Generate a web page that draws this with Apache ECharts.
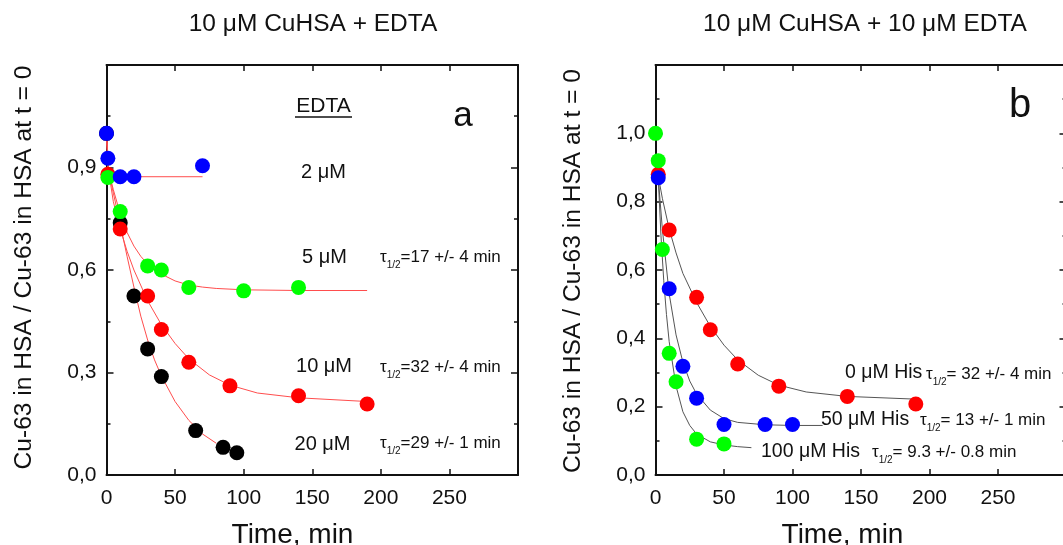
<!DOCTYPE html>
<html>
<head>
<meta charset="utf-8">
<script src="https://cdn.jsdelivr.net/npm/echarts@6/dist/echarts.min.js"></script>
<style>
html,body{margin:0;padding:0;background:#fff}
#chart{width:1063px;height:545px}
</style>
</head>
<body>
<div id="chart"></div>
<script>
// panel a: 10 uM CuHSA + EDTA  (time in min, fraction of Cu-63 left in HSA)
var edta2  = [[0,1.0],[1,0.927],[10,0.873],[20,0.873],[70,0.905]];
var edta5  = [[1,0.871],[10,0.771],[30,0.612],[40,0.600],[60,0.549],[100,0.539],[140,0.549]];
var edta10 = [[1,0.88],[10,0.72],[30,0.524],[40,0.426],[60,0.33],[90,0.261],[140,0.232],[190,0.208]];
var edta20 = [[0,1.0],[10,0.738],[20,0.524],[30,0.369],[40,0.288],[65,0.13],[85,0.081],[95,0.065]];
// fitted curves of panel a
var fitEdta2  = [[0,1.0],[1,0.9],[2,0.873],[70,0.873]];
var fitEdta5  = [[0,1.0],[1.5,0.89],[5,0.835],[10,0.765],[15,0.71],[20,0.67],[25,0.64],[30,0.617],[40,0.588],[50,0.568],[60,0.556],[70,0.55],[80,0.546],[100,0.542],[140,0.54],[190,0.54]];
var fitEdta10 = [[0,1.0],[1.5,0.89],[5,0.8],[10,0.72],[15,0.655],[20,0.6],[30,0.51],[40,0.44],[50,0.385],[60,0.34],[75,0.293],[90,0.263],[110,0.24],[140,0.226],[190,0.215]];
var fitEdta20 = [[0,1.0],[1.5,0.89],[5,0.825],[10,0.735],[15,0.64],[20,0.55],[25,0.465],[30,0.395],[35,0.337],[40,0.29],[50,0.215],[60,0.16],[70,0.12],[80,0.093]];

// panel b: 10 uM CuHSA + 10 uM EDTA with His
var his0   = [[2,0.88],[10,0.717],[30,0.52],[40,0.425],[60,0.325],[90,0.26],[140,0.23],[190,0.208]];
var his50  = [[2,0.87],[10,0.545],[20,0.318],[30,0.225],[50,0.148],[80,0.148],[100,0.148]];
var his100 = [[0,1.0],[2,0.92],[5,0.66],[10,0.356],[15,0.273],[30,0.105],[50,0.091]];
var fitHis0   = [[2,0.875],[5,0.81],[10,0.72],[15,0.65],[20,0.59],[30,0.505],[40,0.435],[50,0.38],[60,0.337],[75,0.292],[90,0.263],[110,0.243],[140,0.23],[190,0.222]];
var fitHis50  = [[2,0.87],[5,0.72],[10,0.53],[15,0.41],[20,0.33],[25,0.275],[30,0.237],[40,0.19],[50,0.165],[60,0.154],[80,0.147],[100,0.145],[122,0.145]];
var fitHis100 = [[2,0.87],[4,0.7],[6,0.57],[8,0.47],[10,0.39],[15,0.26],[20,0.185],[25,0.145],[30,0.12],[40,0.097],[50,0.088],[60,0.083],[70,0.08]];

// tick settings
var xMax = 300, xStep = 50, xLastLabel = 250;
var yMax = 1.2, yStepA = 0.3, yStepB = 0.2;

var FONT = '"Liberation Sans", Arial, Helvetica, sans-serif';
var INK = '#111';

var myChart = echarts.init(document.getElementById('chart'));

function comma(v){ return v.toFixed(1).replace('.', ','); }

function xAxisPair(gi){
  var base = {
    gridIndex: gi, type: 'value', min: 0, max: xMax, interval: xStep,
    axisLine: {onZero: false, lineStyle: {color: INK, width: 2}},
    axisTick: {inside: true, length: 6, lineStyle: {color: INK, width: 1.5}},
    splitLine: {show: false}
  };
  var bottom = echarts.util.merge({
    position: 'bottom',
    axisLabel: {color: INK, fontSize: 21, fontFamily: FONT, margin: 13,
      formatter: function(v){ return v > xLastLabel ? '' : String(v); }}
  }, base, true);
  var top = echarts.util.merge({position: 'top', axisLabel: {show: false}}, base, true);
  return [bottom, top];
}

function yAxisPair(gi, step){
  var base = {
    gridIndex: gi, type: 'value', min: 0, max: yMax, interval: step,
    axisLine: {onZero: false, lineStyle: {color: INK, width: 2}},
    axisTick: {inside: true, length: 7, lineStyle: {color: INK, width: 1.5}},
    minorTick: {show: true, splitNumber: 2, length: 4, lineStyle: {color: INK, width: 1.5}},
    splitLine: {show: false}, minorSplitLine: {show: false}
  };
  var left = echarts.util.merge({
    position: 'left',
    axisLabel: {color: INK, fontSize: 21, fontFamily: FONT, margin: 10,
      formatter: function(v){ return v > 1.05 ? '' : comma(v); }}
  }, base, true);
  var right = echarts.util.merge({position: 'right', axisLabel: {show: false}}, base, true);
  return [left, right];
}

function dots(data, color, xi, yi){
  return {type: 'scatter', data: data, xAxisIndex: xi, yAxisIndex: yi,
    symbol: 'circle', symbolSize: 15, itemStyle: {color: color, opacity: 1}, z: 5};
}
function fit(data, color, xi, yi){
  return {type: 'line', data: data, xAxisIndex: xi, yAxisIndex: yi,
    smooth: false, showSymbol: false, symbol: 'none',
    lineStyle: {color: color, width: 1}, z: 2, silent: true};
}

function txt(x, y, s, size, align){
  return {type: 'text', x: x, y: y, z: 10,
    style: {text: s, fontSize: size, fontFamily: FONT, fill: INK,
      align: align || 'center', verticalAlign: 'middle'}};
}
function tau(x, y, rest){
  return {type: 'text', x: x, y: y, z: 10,
    style: {text: '{t|τ}{s|1/2}{t|' + rest + '}', fontFamily: FONT, fill: INK,
      align: 'left', verticalAlign: 'middle',
      rich: {
        t: {fontSize: 17, lineHeight: 26, verticalAlign: 'middle', fontFamily: FONT, fill: INK},
        s: {fontSize: 10, lineHeight: 12, verticalAlign: 'bottom', fontFamily: FONT, fill: INK}
      }}};
}
function yName(x, y){
  return {type: 'text', x: x, y: y, rotation: Math.PI / 2, z: 10,
    style: {text: 'Cu-63 in HSA / Cu-63 in HSA at t = 0', fontSize: 24.6, fontFamily: FONT,
      fill: INK, align: 'center', verticalAlign: 'middle'}};
}

var RED_FIT = '#ff4d4d', GREY_FIT = '#555';

var xs = xAxisPair(0).concat(xAxisPair(1));
var ys = yAxisPair(0, yStepA).concat(yAxisPair(1, yStepB));

var option = {
  animation: false,
  backgroundColor: '#fff',
  grid: [
    {left: 106.5, top: 65, width: 411.5, height: 410, outerBoundsMode: 'none', containLabel: false},
    {left: 655.5, top: 65, width: 411, height: 410, outerBoundsMode: 'none', containLabel: false}
  ],
  xAxis: xs,
  yAxis: ys,
  series: [
    fit(fitEdta2, RED_FIT, 0, 0),
    fit(fitEdta5, RED_FIT, 0, 0),
    fit(fitEdta10, RED_FIT, 0, 0),
    fit(fitEdta20, RED_FIT, 0, 0),
    dots(edta20, '#000000', 0, 0),
    dots(edta10, '#ff0000', 0, 0),
    dots(edta5, '#00ff00', 0, 0),
    dots(edta2, '#0000ff', 0, 0),

    fit(fitHis0, GREY_FIT, 2, 2),
    fit(fitHis50, GREY_FIT, 2, 2),
    fit(fitHis100, GREY_FIT, 2, 2),
    dots(his0, '#ff0000', 2, 2),
    dots(his50, '#0000ff', 2, 2),
    dots(his100, '#00ff00', 2, 2)
  ],
  graphic: [
    txt(313, 24, '10 μM CuHSA + EDTA', 24.5),
    txt(865, 24, '10 μM CuHSA + 10 μM EDTA', 24.5),
    txt(292.5, 535, 'Time, min', 28),
    txt(842.5, 535, 'Time, min', 28),
    yName(24, 267.5),
    yName(573, 271),
    txt(463, 116, 'a', 35),
    txt(1020, 106, 'b', 40),

    txt(323.5, 106, 'EDTA', 21),
    {type: 'line', z: 10, shape: {x1: 295, y1: 117, x2: 352, y2: 117}, style: {stroke: INK, lineWidth: 1.5}},
    txt(323.5, 172, '2 μM', 20),
    txt(324.5, 257, '5 μM', 20),
    txt(324, 366, '10 μM', 20),
    txt(322.5, 444, '20 μM', 20),
    tau(380, 257, '=17 +/- 4 min'),
    tau(380, 367, '=32 +/- 4 min'),
    tau(380, 443, '=29 +/- 1 min'),

    txt(845, 373, '0 μM His', 19.5, 'left'),
    txt(821, 420, '50 μM His', 19.5, 'left'),
    txt(761, 452, '100 μM His', 19.5, 'left'),
    tau(926, 374, '= 32 +/- 4 min'),
    tau(920, 420, '= 13 +/- 1 min'),
    tau(872, 452, '= 9.3 +/- 0.8 min')
  ]
};

myChart.setOption(option);
</script>
</body>
</html>
